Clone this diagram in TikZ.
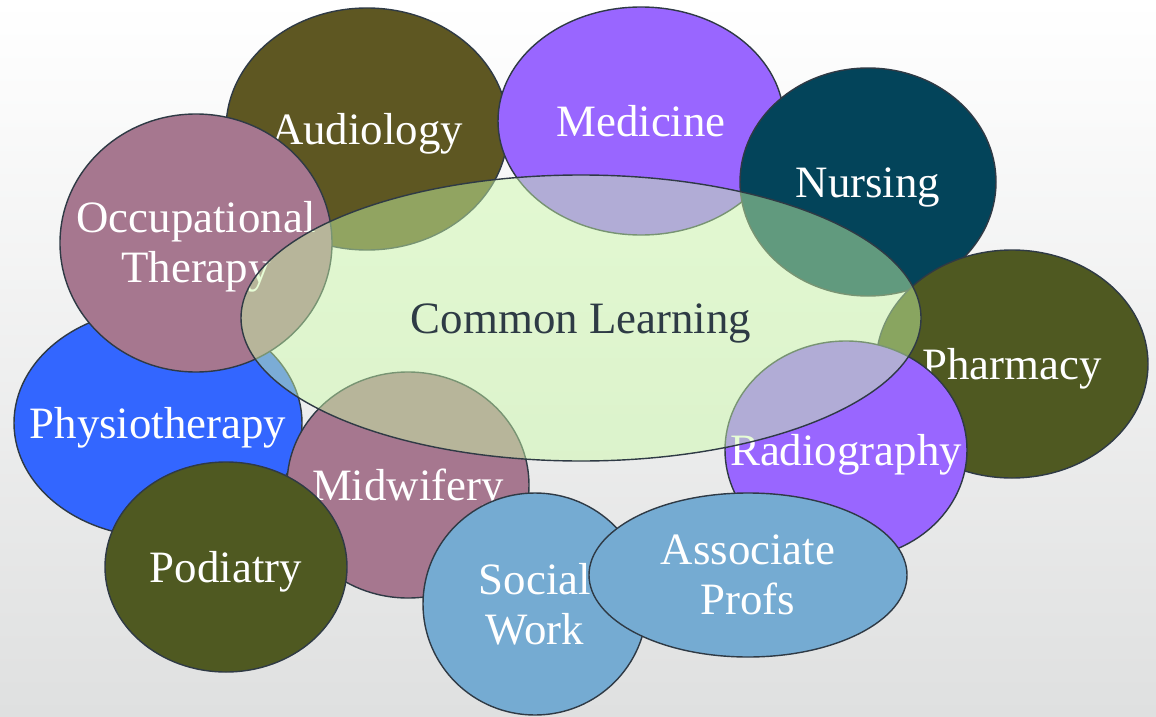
\documentclass[tikz,border=0pt]{standalone}
\usepackage{fontspec}
\setmainfont{Liberation Serif}
\definecolor{rim}{HTML}{2F3A45}
\definecolor{inkgrey}{HTML}{2E3B45}
\definecolor{bgmiddle}{HTML}{F3F3F3}
\definecolor{bgbottom}{HTML}{DFE0E0}
\definecolor{olivebrown}{HTML}{5E5722}
\definecolor{lavender}{HTML}{9966FF}
\definecolor{deepteal}{HTML}{03445A}
\definecolor{mossgreen}{HTML}{4F5921}
\definecolor{skyblue}{HTML}{75ABD2}
\definecolor{mauve}{HTML}{A6778F}
\definecolor{physblue}{HTML}{3366FF}
\definecolor{paleleaf}{HTML}{CCFBA8}

\begin{document}
\begin{tikzpicture}[x=0.025cm, y=-0.025cm,
    rimmed/.style={draw=rim, line width=1pt},
    tag/.style={text=white, font=\fontsize{31.9pt}{35.5pt}\selectfont,
      text height=22pt, text depth=0pt},
    pair/.style={text=white, font=\fontsize{31.9pt}{35.5pt}\selectfont,
      align=center}]
\shade[top color=white, middle color=bgmiddle, bottom color=bgbottom] (0,0) rectangle (1156,716);
\useasboundingbox (0,0) rectangle (1156,716);

% ring of professions, back to front
\draw[rimmed, fill=olivebrown] (367,129)
      ellipse [x radius=141, y radius=121] node[tag] (audiology) {Audiology};
\draw[rimmed, fill=lavender] (641,121)
      ellipse [x radius=143, y radius=114] node[tag] (medicine) {Medicine};
\draw[rimmed, fill=deepteal] (868,182)
      ellipse [x radius=128, y radius=114] node[tag] (nursing) {Nursing};
\draw[rimmed, fill=mossgreen] (1012,364)
      ellipse [x radius=136, y radius=114] node[tag] (pharmacy) {Pharmacy};
\draw[rimmed, fill=lavender] (846,450)
      ellipse [x radius=121, y radius=109] node[tag] (radiography) {Radiography};
\draw[rimmed, fill=physblue] (158,423)
      ellipse [x radius=144, y radius=114] node[tag] (physio) {Physiotherapy};
\draw[rimmed, fill=mauve] (196,243)
      ellipse [x radius=136, y radius=129] node[pair, yshift=-0.1cm] (occupational) {Occupational\\Therapy};
\draw[rimmed, fill=mauve] (408,485)
      ellipse [x radius=121, y radius=113] node[tag] (midwifery) {Midwifery};
\draw[rimmed, fill=mossgreen] (226,567)
      ellipse [x radius=121, y radius=105] node[tag] (podiatry) {Podiatry};
\draw[rimmed, fill=skyblue] (535,604)
      ellipse [x radius=112, y radius=111] node[pair] (social) {Social\\Work};
\draw[rimmed, fill=skyblue] (748,575)
      ellipse [x radius=159, y radius=82] node[pair] (associate) {Associate\\Profs};

% shared core on top
\draw[rimmed, fill=paleleaf, fill opacity=0.47] (581,318)
      ellipse [x radius=340, y radius=143]
      node[tag, text=inkgrey, text opacity=1] (common) {Common Learning};
\end{tikzpicture}
\end{document}
